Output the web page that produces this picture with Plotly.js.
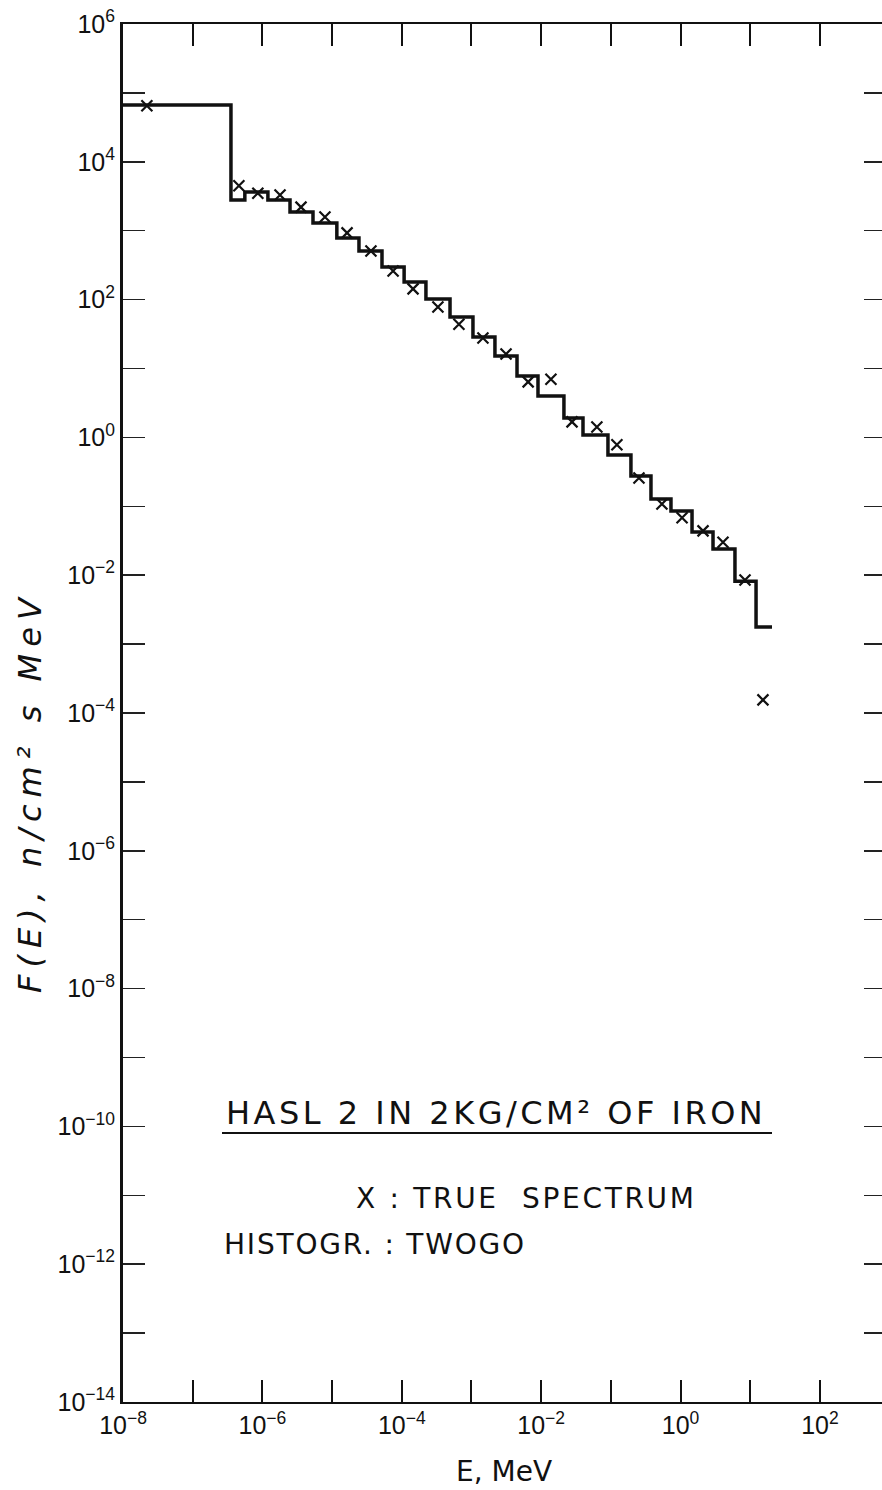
<!DOCTYPE html>
<html>
<head>
<meta charset="utf-8">
<script src="https://cdn.plot.ly/plotly-3.0.1.min.js"></script>
<style>html,body{margin:0;padding:0;background:#fff;}#chart{width:882px;height:1490px;}</style>
</head>
<body>
<div id="chart"></div>
<script>
// Histogram (TWOGO) bin edges in MeV and flux per bin
const binEdges = [1e-8, 3.54e-7, 5.6e-7, 1.2e-6, 2.49e-6, 5.32e-6, 1.17e-5, 2.43e-5, 5.2e-5, 1.08e-4, 2.22e-4, 4.92e-4, 1.05e-3, 2.17e-3, 4.5e-3, 9.0e-3, 2.12e-2, 3.98e-2, 9.08e-2, 0.194, 0.376, 0.728, 1.46, 2.92, 6.03, 12.1, 20.5];
const histFlux = [6.7e4, 2.8e3, 3.65e3, 2.8e3, 1.87e3, 1.29e3, 784, 507, 297, 180, 102, 56, 28.7, 15.2, 7.8, 4.0, 1.91, 1.08, 0.556, 0.275, 0.128, 0.0855, 0.0424, 0.024, 8.2e-3, 1.77e-3];
// True spectrum points (x markers)
const trueE = [2.2e-8, 4.6e-7, 8.6e-7, 1.79e-6, 3.58e-6, 7.9e-6, 1.64e-5, 3.61e-5, 7.5e-5, 1.45e-4, 3.3e-4, 6.6e-4, 1.46e-3, 3.13e-3, 6.5e-3, 1.38e-2, 2.77e-2, 6.3e-2, 0.122, 0.253, 0.54, 1.05, 2.1, 4.06, 8.4, 15.2];
const trueF = [6.5e4, 4.5e3, 3.5e3, 3.3e3, 2.2e3, 1.58e3, 930, 507, 260, 143, 78, 44, 27.7, 16.2, 6.4, 7.0, 1.68, 1.42, 0.78, 0.258, 0.108, 0.068, 0.044, 0.030, 8.5e-3, 1.55e-4];
// Axis ticks: labelled decades and all decade tick marks
const xLabelExp = [-8, -6, -4, -2, 0, 2];
const xTickText = ["10<sup>−8</sup>", "10<sup>−6</sup>", "10<sup>−4</sup>", "10<sup>−2</sup>", "10<sup>0</sup>", "10<sup>2</sup>"];
const xMarkExp = [-8, -7, -6, -5, -4, -3, -2, -1, 0, 1, 2];
const yLabelExp = [6, 4, 2, 0, -2, -4, -6, -8, -10, -12, -14];
const yTickText = ["10<sup>6</sup>", "10<sup>4</sup>", "10<sup>2</sup>", "10<sup>0</sup>", "10<sup>−2</sup>", "10<sup>−4</sup>", "10<sup>−6</sup>", "10<sup>−8</sup>", "10<sup>−10</sup>", "10<sup>−12</sup>", "10<sup>−14</sup>"];
const yMarkExp = [6, 5, 4, 3, 2, 1, 0, -1, -2, -3, -4, -5, -6, -7, -8, -9, -10, -11, -12, -13, -14];

const p10 = e => Math.pow(10, e);
const histY = histFlux.concat([histFlux[histFlux.length - 1]]);

const tickFont = {family: "Liberation Sans, Arial, sans-serif", size: 25, color: "#111"};

const traces = [
  {x: binEdges, y: histY, type: "scatter", mode: "lines", line: {shape: "hv", color: "#111", width: 3.5}, showlegend: false, hoverinfo: "skip"},
  {x: trueE, y: trueF, type: "scatter", mode: "markers", marker: {symbol: "x-thin-open", size: 11, color: "#111", line: {width: 2.2, color: "#111"}}, showlegend: false, hoverinfo: "skip"},
  {x: [null], y: [null], yaxis: "y2", type: "scatter", mode: "lines", showlegend: false, hoverinfo: "skip"}
];

const px = v => (v - 123) / 759;
const py = v => (1402 - v) / 1378;

const layout = {
  width: 882, height: 1490,
  margin: {l: 123, r: 0, t: 24, b: 88},
  paper_bgcolor: "#fff", plot_bgcolor: "#fff",
  showlegend: false,
  xaxis: {
    type: "log", range: [-8, 2.89], showgrid: false, zeroline: false,
    showline: true, linecolor: "#111", linewidth: 2, mirror: "ticks",
    ticks: "inside", ticklen: 22, tickwidth: 2, tickcolor: "#111",
    tickmode: "array", tickvals: xLabelExp.map(p10), ticktext: xTickText, tickfont: tickFont,
    minor: {tickmode: "array", tickvals: xMarkExp.map(p10), ticks: "inside", ticklen: 22, tickwidth: 2, tickcolor: "#111", showgrid: false}
  },
  yaxis: {
    type: "log", range: [-14, 6], showgrid: false, zeroline: false,
    showline: true, linecolor: "#111", linewidth: 3, mirror: false,
    ticks: "inside", ticklen: 22, tickwidth: 1.5, tickcolor: "#222",
    tickmode: "array", tickvals: yLabelExp.map(p10), ticktext: yTickText, tickfont: tickFont,
    minor: {tickmode: "array", tickvals: yMarkExp.map(p10), ticks: "inside", ticklen: 22, tickwidth: 1.5, tickcolor: "#222", showgrid: false}
  },
  yaxis2: {
    type: "log", range: [-14, 6], overlaying: "y", side: "right",
    showgrid: false, zeroline: false, showline: false,
    ticks: "inside", ticklen: 18, tickwidth: 1.5, tickcolor: "#222",
    tickmode: "array", tickvals: yMarkExp.map(p10), showticklabels: false
  },
  annotations: [
    {xref: "paper", yref: "paper", x: px(496), y: py(1113), xanchor: "center", yanchor: "middle", showarrow: false,
     text: "<span style=\"letter-spacing:3.5px\">HASL 2 IN 2KG/CM² OF IRON</span>", font: {family: "DejaVu Sans, sans-serif", size: 32, color: "#111"}},
    {xref: "paper", yref: "paper", x: px(526), y: py(1198), xanchor: "center", yanchor: "middle", showarrow: false,
     text: "<span style=\"letter-spacing:2.7px\">X : TRUE  SPECTRUM</span>", font: {family: "DejaVu Sans, sans-serif", size: 28, color: "#111"}},
    {xref: "paper", yref: "paper", x: px(222), y: py(1244), xanchor: "left", yanchor: "middle", showarrow: false,
     text: "<span style=\"letter-spacing:1.8px\">HISTOGR. : TWOGO</span>", font: {family: "DejaVu Sans, sans-serif", size: 28, color: "#111"}},
    {xref: "paper", yref: "paper", x: px(30), y: py(792), xanchor: "center", yanchor: "middle", showarrow: false, textangle: -90,
     text: "<i><span style=\"letter-spacing:7px\">F(E), n/cm² s MeV</span></i>", font: {family: "DejaVu Sans, sans-serif", size: 32, color: "#111"}},
    {xref: "paper", yref: "paper", x: px(504), y: py(1472), xanchor: "center", yanchor: "middle", showarrow: false,
     text: "E, MeV", font: {family: "DejaVu Sans, sans-serif", size: 28, color: "#111"}}
  ],
  shapes: [
    {type: "line", xref: "paper", yref: "paper", x0: px(222), x1: px(772), y0: py(1133), y1: py(1133), line: {color: "#111", width: 2}}
  ]
};

Plotly.newPlot("chart", traces, layout, {staticPlot: true, displayModeBar: false});
</script>
</body>
</html>
